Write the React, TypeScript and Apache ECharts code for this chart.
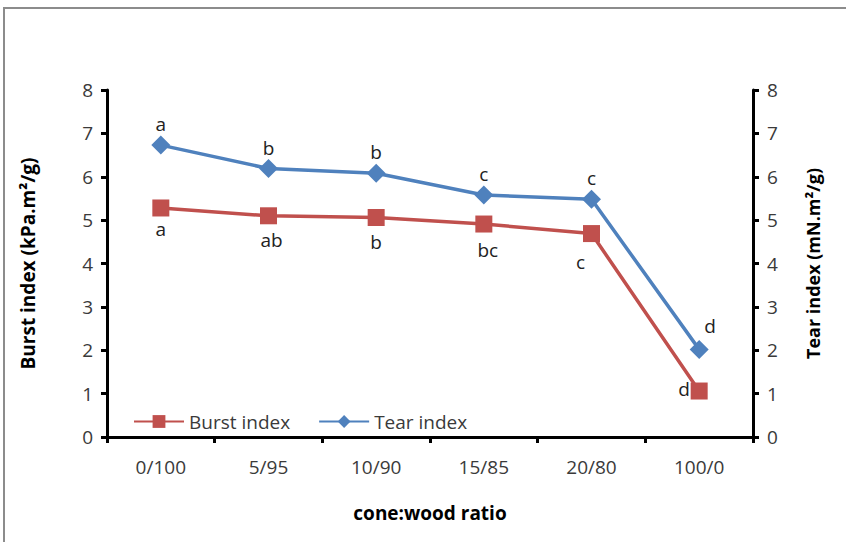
import React, { useEffect, useRef } from "react";
import * as echarts from "echarts";

const categories = ["0/100", "5/95", "10/90", "15/85", "20/80", "100/0"];
const burstValues = [5.28, 5.1, 5.06, 4.91, 4.69, 1.06];
const tearValues = [6.73, 6.19, 6.08, 5.58, 5.48, 2.02];
const burstLetters = ["a", "ab", "b", "bc", "c", "d"];
const tearLetters = ["a", "b", "b", "c", "c", "d"];

const FONT = "Open Sans";
const TXT = "#3a3a3a";

export default function App() {
  const ref = useRef<HTMLDivElement>(null);
  useEffect(() => {
    const chart = echarts.init(ref.current!, null, { renderer: "svg" });
    const burstOffsets: number[][] = [[0, -3], [3, 0], [0, 0], [4, 2], [-11, 4], [-15, -26]];
    const tearOffsets: number[][] = [[0, 0], [0, 0], [0, 0], [0, 0], [0, 0], [11, -2]];
    chart.setOption({
      animation: false,
      backgroundColor: "#fff",
      textStyle: { fontFamily: FONT },
      graphic: [
        {
          type: "rect",
          shape: { x: 4, y: 8, width: 900, height: 600 },
          style: { fill: "none", stroke: "#8c8c8c", lineWidth: 2 },
          z: -1,
        },
      ],
      grid: { left: 107, right: 93, top: 90, bottom: 105 },
      legend: {
        left: 128,
        top: 407,
        itemWidth: 50,
        itemHeight: 16,
        itemGap: 28,
        textStyle: { fontFamily: FONT, fontSize: 19, color: TXT },
        data: ["Burst index", "Tear index"],
      },
      xAxis: {
        type: "category",
        data: categories,
        boundaryGap: true,
        name: "cone:wood ratio",
        nameLocation: "middle",
        nameGap: 66,
        nameTextStyle: { fontFamily: FONT, fontSize: 19, fontWeight: "bold", color: "#000" },
        axisLine: { lineStyle: { color: "#000", width: 3 } },
        axisTick: { show: true, inside: false, length: 6, alignWithLabel: false, lineStyle: { color: "#000", width: 3 } },
        axisLabel: { fontFamily: FONT, fontSize: 19, color: TXT, margin: 20 },
        splitLine: { show: false },
      },
      yAxis: [
        {
          type: "value",
          min: 0,
          max: 8,
          interval: 1,
          position: "left",
          name: "Burst index (kPa.m²/g)",
          nameLocation: "middle",
          nameGap: 70,
          nameRotate: 90,
          nameTextStyle: { fontFamily: FONT, fontSize: 19, fontWeight: "bold", color: "#000" },
          axisLine: { show: true, lineStyle: { color: "#000", width: 3 } },
          axisTick: { show: true, length: 6, lineStyle: { color: "#000", width: 3 } },
          axisLabel: { fontFamily: FONT, fontSize: 19, color: TXT, margin: 14 },
          splitLine: { show: false },
        },
        {
          type: "value",
          min: 0,
          max: 8,
          interval: 1,
          position: "right",
          name: "Tear index (mN.m²/g)",
          nameLocation: "middle",
          nameGap: 51,
          nameRotate: 90,
          nameTextStyle: { fontFamily: FONT, fontSize: 18, fontWeight: "bold", color: "#000" },
          axisLine: { show: true, lineStyle: { color: "#000", width: 3 } },
          axisTick: { show: true, length: 6, lineStyle: { color: "#000", width: 3 } },
          axisLabel: { fontFamily: FONT, fontSize: 19, color: TXT, margin: 14 },
          splitLine: { show: false },
        },
      ],
      series: [
        {
          name: "Burst index",
          type: "line",
          yAxisIndex: 0,
          symbol: "rect",
          symbolSize: 17,
          color: "#C0504D",
          lineStyle: { width: 3.5, color: "#C0504D" },
          itemStyle: { color: "#C0504D" },
          data: burstValues.map((v, i) => ({
            value: v,
            label: {
              show: true,
              formatter: burstLetters[i],
              position: "bottom",
              distance: 6,
              offset: burstOffsets[i],
              fontFamily: FONT,
              fontSize: 19,
              color: "#222",
            },
          })),
        },
        {
          name: "Tear index",
          type: "line",
          yAxisIndex: 1,
          symbol: "diamond",
          symbolSize: 19,
          color: "#4F81BD",
          lineStyle: { width: 3.5, color: "#4F81BD" },
          itemStyle: { color: "#4F81BD" },
          data: tearValues.map((v, i) => ({
            value: v,
            label: {
              show: true,
              formatter: tearLetters[i],
              position: "top",
              distance: 2,
              offset: tearOffsets[i],
              fontFamily: FONT,
              fontSize: 19,
              color: "#222",
            },
          })),
        },
      ],
    });
    return () => chart.dispose();
  }, []);
  return <div ref={ref} style={{ width: 846, height: 542, position: "absolute", left: 0, top: 0 }} />;
}
